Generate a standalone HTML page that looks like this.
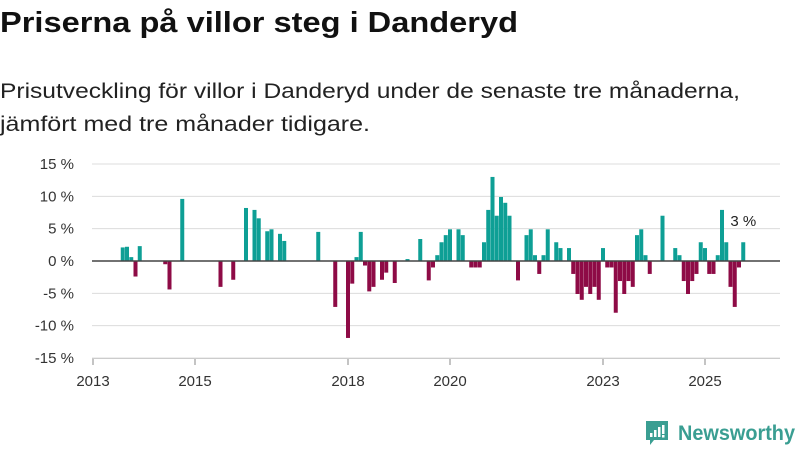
<!DOCTYPE html>
<html><head><meta charset="utf-8"><style>
html,body{margin:0;padding:0;background:#fff;width:800px;height:450px;overflow:hidden}
svg{display:block;font-family:"Liberation Sans",sans-serif}
</style></head><body>
<svg id="chart" width="800" height="450" viewBox="0 0 800 450">
<text x="0" y="32" font-size="29" font-weight="bold" fill="#111" textLength="518" lengthAdjust="spacingAndGlyphs">Priserna på villor steg i Danderyd</text>
<text x="0" y="98" font-size="21" fill="#222" textLength="740" lengthAdjust="spacingAndGlyphs">Prisutveckling för villor i Danderyd under de senaste tre månaderna,</text>
<text x="0" y="131" font-size="21" fill="#222" textLength="370" lengthAdjust="spacingAndGlyphs">jämfört med tre månader tidigare.</text>
<g id="grid"></g><g id="bars"></g><g id="axes"></g>
<g>
<path d="M646 421 h22 v19 h-14 l-4 5 v-5 h-4 z" fill="#3a9e92"/>
<rect x="650" y="433" width="2.5" height="4" fill="#fff"/><rect x="654" y="430" width="2.5" height="7" fill="#fff"/><rect x="658" y="427" width="2.5" height="10" fill="#fff"/><rect x="662" y="425" width="2.5" height="9" fill="#fff"/><rect x="662" y="435" width="2.5" height="2.5" fill="#fff"/>
<text x="678" y="440" font-size="21" font-weight="bold" fill="#3a9e92" textLength="117" lengthAdjust="spacingAndGlyphs">Newsworthy</text>
</g>
</svg>
<script>
const months=[7,8,9,10,11,17,18,21,30,33,36,38,39,41,42,44,45,53,57,60,61,62,63,64,65,66,68,69,71,74,77,79,80,81,82,83,84,86,87,89,90,91,92,93,94,95,96,97,98,100,102,103,104,105,106,107,109,110,112,113,114,115,116,117,118,119,120,121,122,123,124,125,126,127,128,129,130,131,134,137,138,139,140,141,142,143,144,145,146,147,148,149,150,151,152,153];
const values=[2.1,2.2,0.6,-2.4,2.3,-0.5,-4.4,9.6,-4.0,-2.9,8.2,7.9,6.6,4.6,4.9,4.2,3.1,4.5,-7.1,-11.9,-3.5,0.6,4.5,-0.7,-4.7,-4.0,-2.9,-1.8,-3.4,0.3,3.4,-3.0,-1.0,0.9,2.9,4.0,4.9,4.9,4.0,-1.0,-1.0,-1.0,2.9,7.9,13.0,7.0,9.9,9.0,7.0,-3.0,4.0,4.9,0.9,-2.0,0.9,4.9,2.9,2.0,2.0,-2.0,-5.1,-6.0,-4.0,-5.1,-4.0,-6.0,2.0,-1.0,-1.0,-8.0,-3.1,-5.1,-3.1,-4.0,4.0,4.9,0.9,-2.0,7.0,2.0,0.9,-3.1,-5.1,-3.1,-2.0,2.9,2.0,-2.0,-2.0,0.9,7.9,2.9,-4.0,-7.1,-1.0,2.9];
const yTicks=[15,10,5,0,-5,-10,-15];
const xTickYears=[2013,2015,2018,2020,2023,2025];
const NS="http://www.w3.org/2000/svg";
const y=v=>261-v*6.467;
const xm=m=>93+m*4.25;
const xy=yr=>93+(yr-2013)*51;
function mk(t,a,p){const e=document.createElementNS(NS,t);for(const k in a)e.setAttribute(k,a[k]);document.getElementById(p).appendChild(e);return e;}
yTicks.forEach(v=>{
  if(v!==0){const g=mk('line',{x1:92,x2:780,y1:y(v),y2:y(v),stroke:'#dcdcdc','stroke-width':1},'grid');
  
  }
  const t=mk('text',{x:74,y:y(v)+5,'text-anchor':'end','font-size':15,fill:'#333'},'axes');
  t.textContent=v+' %';
  
  
});
months.forEach((m,i)=>{
  const v=values[i];
  const r=mk('rect',{x:xm(m)-2,width:4,y:Math.min(y(v),y(0)),height:Math.abs(y(v)-y(0)),fill:v>=0?'#0e9f95':'#8e0b46'},'bars');
  
  
});
const z=mk('line',{x1:92,x2:780,y1:y(0),y2:y(0),stroke:'#444','stroke-width':1.5},'axes');


const xa=mk('line',{x1:92,x2:780,y1:358.5,y2:358.5,stroke:'#ccc','stroke-width':1},'axes');


xTickYears.forEach(yr=>{
  const l=mk('line',{x1:xy(yr),x2:xy(yr),y1:359,y2:365,stroke:'#888'},'axes');
  
  
  const t=mk('text',{x:xy(yr),y:386,'text-anchor':'middle','font-size':15,fill:'#333'},'axes');
  t.textContent=yr;
  
  
});
const lm=months[months.length-1], lv=values[values.length-1];
const lab=mk('text',{x:xm(lm),y:226,'text-anchor':'middle','font-size':15,fill:'#222'},'axes');
lab.textContent=Math.round(lv)+' %';


</script>
</body></html>
